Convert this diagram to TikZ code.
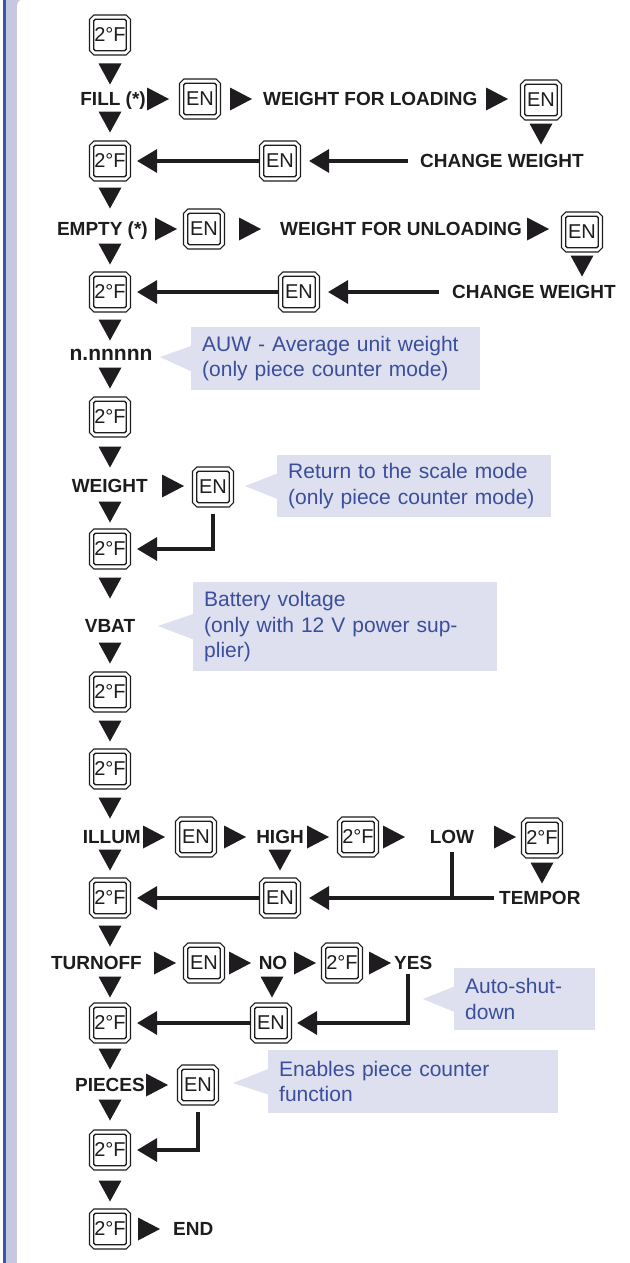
\documentclass[tikz,border=0pt]{standalone}
\usepackage{fontspec}
\setmainfont{Liberation Sans}
\usetikzlibrary{arrows.meta,shapes.misc,calc}
\definecolor{ink}{RGB}{30,28,30}
\definecolor{callfill}{RGB}{222,224,239}
\definecolor{calltext}{RGB}{58,78,155}
\definecolor{band}{RGB}{198,200,226}
\definecolor{bandline}{RGB}{62,84,164}
\tikzset{
  keybox/.style={chamfered rectangle, chamfered rectangle xsep=2.2pt, chamfered rectangle ysep=2.2pt,
    draw=ink, line width=1.1pt, fill=white, minimum width=41pt, minimum height=40pt, inner sep=0pt,
    font=\fontsize{20}{20}\selectfont, text=ink,
    path picture={\draw[ink, line width=1.3pt, rounded corners=1.5pt]
      ([shift={(4.3pt,-4.3pt)}]path picture bounding box.north west) rectangle
      ([shift={(-4.3pt,4.3pt)}]path picture bounding box.south east);}},
  lbl/.style={font=\fontsize{19}{22}\selectfont\bfseries, text=ink, inner sep=0pt, text height=13.6pt, text depth=0pt},
  notebox/.style={fill=callfill, text=calltext, font=\fontsize{21}{25.5}\selectfont, align=left,
    inner xsep=11pt, inner ysep=0pt, anchor=north west},
  conn/.style={draw=ink, line width=3.5pt, -{Triangle[length=20pt,width=23pt]}},
  plainline/.style={draw=ink, line width=3.5pt},
  tdn/.pic={\fill[ink] (-11.5,-10.5) -- (11.5,-10.5) -- (0,10.5) -- cycle;},
  trt/.pic={\fill[ink] (-11,-11.5) -- (11,0) -- (-11,11.5) -- cycle;},
}
\begin{document}
\begin{tikzpicture}[x=1pt,y=-1pt]
\useasboundingbox (0,0) rectangle (629,1263);
% frame
\fill[band] (3,-10) rectangle (60,1280);
\fill[bandline] (3,-10) rectangle (6,1280);
\fill[white, rounded corners=7pt] (17,-1) rectangle (700,1300);

% ---- FILL
\node[keybox] (k1) at (110,35) {2°F};
\pic at (110,74) {tdn};
\node[lbl, anchor=east] (fill) at (146,99) {FILL (*)};
\pic at (158,99) {trt};
\node[keybox] (en1) at (200,99) {EN};
\pic at (241,99) {trt};
\node[lbl, anchor=west] (wfl) at (263,99) {WEIGHT FOR LOADING};
\pic at (497,99) {trt};
\node[keybox] (en2) at (541,100) {EN};
\pic at (541,134) {tdn};
\pic at (110,122) {tdn};
\node[keybox] (k2) at (110,161) {2°F};
\node[keybox] (en3) at (280,161) {EN};
\node[lbl, anchor=west] (cw1) at (420,161) {CHANGE WEIGHT};
\draw[conn, shorten >=6pt] (en3.west) -- (k2.east);
\draw[conn, shorten >=8pt] ([xshift=-12pt]cw1.west) -- (en3.east);

% ---- EMPTY
\pic at (110,198) {tdn};
\node[lbl, anchor=east] (empty) at (148,229) {EMPTY (*)};
\pic at (166,229) {trt};
\node[keybox] (en4) at (204,229) {EN};
\pic at (250,229) {trt};
\node[lbl, anchor=west] (wfu) at (280,229) {WEIGHT FOR UNLOADING};
\pic at (538,229) {trt};
\node[keybox] (en5) at (582,232) {EN};
\pic at (582,266) {tdn};
\pic at (110,254) {tdn};
\node[keybox] (k3) at (110,292) {2°F};
\node[keybox] (en6) at (299,292) {EN};
\node[lbl, anchor=west] (cw2) at (452,292) {CHANGE WEIGHT};
\draw[conn, shorten >=6pt] (en6.west) -- (k3.east);
\draw[conn, shorten >=8pt] ([xshift=-13pt]cw2.west) -- (en6.east);

% ---- AUW
\pic at (110,330) {tdn};
\node[lbl, font=\fontsize{21}{24}\selectfont\bfseries, text height=11pt] (nval) at (111,355) {n.nnnnn};
\node[notebox, minimum width=289pt, minimum height=63pt, text width=267pt] (c1) at (191,327)
  {AUW - Average unit weight\\(only piece counter mode)};
\coordinate (c1tip) at (160,357);
\fill[callfill] (c1tip) -- ($(c1.west)+(1,-13)$) -- ($(c1.west)+(1,13)$) -- cycle;
\pic at (110,378) {tdn};
\node[keybox] (k4) at (110,417) {2°F};

% ---- WEIGHT
\pic at (110,457) {tdn};
\node[lbl, anchor=east] (wt) at (148,486) {WEIGHT};
\pic at (173,486) {trt};
\node[keybox] (en7) at (213,487) {EN};
\node[notebox, minimum width=274pt, minimum height=62pt, text width=252pt] (c2) at (277,455)
  {Return to the scale mode\\(only piece counter mode)};
\coordinate (c2tip) at (245,486);
\fill[callfill] (c2tip) -- ($(c2.west)+(1,-13)$) -- ($(c2.west)+(1,13)$) -- cycle;
\pic at (110,512) {tdn};
\node[keybox] (k5) at (110,549) {2°F};
\draw[conn, shorten <=6pt, shorten >=6pt] (en7.south) |- (k5.east);

% ---- VBAT
\pic at (110,588) {tdn};
\node[lbl] (vbat) at (110,626) {VBAT};
\node[notebox, minimum width=304pt, minimum height=89pt, text width=282pt] (c3) at (193,582)
  {Battery voltage\\(only with 12 V power sup-\\plier)};
\coordinate (c3tip) at (158,626);
\fill[callfill] (c3tip) -- ($(c3.west)+(1,-13)$) -- ($(c3.west)+(1,13)$) -- cycle;
\pic at (110,653) {tdn};
\node[keybox] (k6) at (110,692) {2°F};
\pic at (110,731) {tdn};
\node[keybox] (k7) at (110,769) {2°F};
\pic at (110,808) {tdn};

% ---- ILLUM
\node[lbl, anchor=east] (illum) at (141,837) {ILLUM};
\pic at (154,837) {trt};
\node[keybox] (en8) at (196,837) {EN};
\pic at (235,837) {trt};
\node[lbl] (high) at (280,837) {HIGH};
\pic at (318,837) {trt};
\node[keybox] (k8) at (358,837) {2°F};
\pic at (394,837) {trt};
\node[lbl] (low) at (452,837) {LOW};
\pic at (505,837) {trt};
\node[keybox] (k9) at (542,838) {2°F};
\pic at (110,860) {tdn};
\pic at (280,860) {tdn};
\pic at (542,873) {tdn};
\node[keybox] (k10) at (110,898) {2°F};
\node[keybox] (en9) at (280,898) {EN};
\node[lbl, anchor=west] (tempor) at (499,898) {TEMPOR};
\draw[conn, shorten >=6pt] (en9.west) -- (k10.east);
\draw[conn, shorten <=5pt, shorten >=8pt] (tempor.west) -- (en9.east);
\draw[plainline, shorten <=8pt] (low.south) -- (low.south |- en9.center);

% ---- TURNOFF
\pic at (110,936) {tdn};
\node[lbl, anchor=east] (turnoff) at (142,963) {TURNOFF};
\pic at (165,963) {trt};
\node[keybox] (en10) at (204,963) {EN};
\pic at (240,963) {trt};
\node[lbl] (no) at (273,963) {NO};
\pic at (305,963) {trt};
\node[keybox] (k11) at (342,963) {2°F};
\pic at (380,963) {trt};
\node[lbl, anchor=west] (yes) at (394,963) {YES};
\pic at (110,987) {tdn};
\pic at (272,987) {tdn};
\node[keybox] (k12) at (110,1023) {2°F};
\node[keybox] (en11) at (271,1023) {EN};
\draw[conn, shorten >=6pt] (en11.west) -- (k12.east);
\coordinate (yb) at (408,974);
\draw[conn, shorten >=5pt] (yb) |- (en11.east);
\node[notebox, minimum width=141pt, minimum height=62pt, text width=119pt] (c4) at (454,968)
  {Auto-shut-\\down};
\coordinate (c4tip) at (423,999);
\fill[callfill] (c4tip) -- ($(c4.west)+(1,-13)$) -- ($(c4.west)+(1,13)$) -- cycle;

% ---- PIECES
\pic at (110,1059) {tdn};
\node[lbl, anchor=east] (pieces) at (145,1085) {PIECES};
\pic at (157,1085) {trt};
\node[keybox] (en12) at (198,1085) {EN};
\node[notebox, minimum width=290pt, minimum height=63pt, text width=268pt] (c5) at (268,1050)
  {Enables piece counter\\function};
\coordinate (c5tip) at (233,1083);
\fill[callfill] (c5tip) -- ($(c5.west)+(1,-13)$) -- ($(c5.west)+(1,13)$) -- cycle;
\pic at (110,1110) {tdn};
\node[keybox] (k13) at (110,1150) {2°F};
\draw[conn, shorten <=6pt, shorten >=6pt] (en12.south) |- (k13.east);
\pic at (110,1191) {tdn};
\node[keybox] (k14) at (110,1229) {2°F};
\pic at (149,1229) {trt};
\node[lbl, anchor=west] (endt) at (173,1229) {END};
\end{tikzpicture}
\end{document}
